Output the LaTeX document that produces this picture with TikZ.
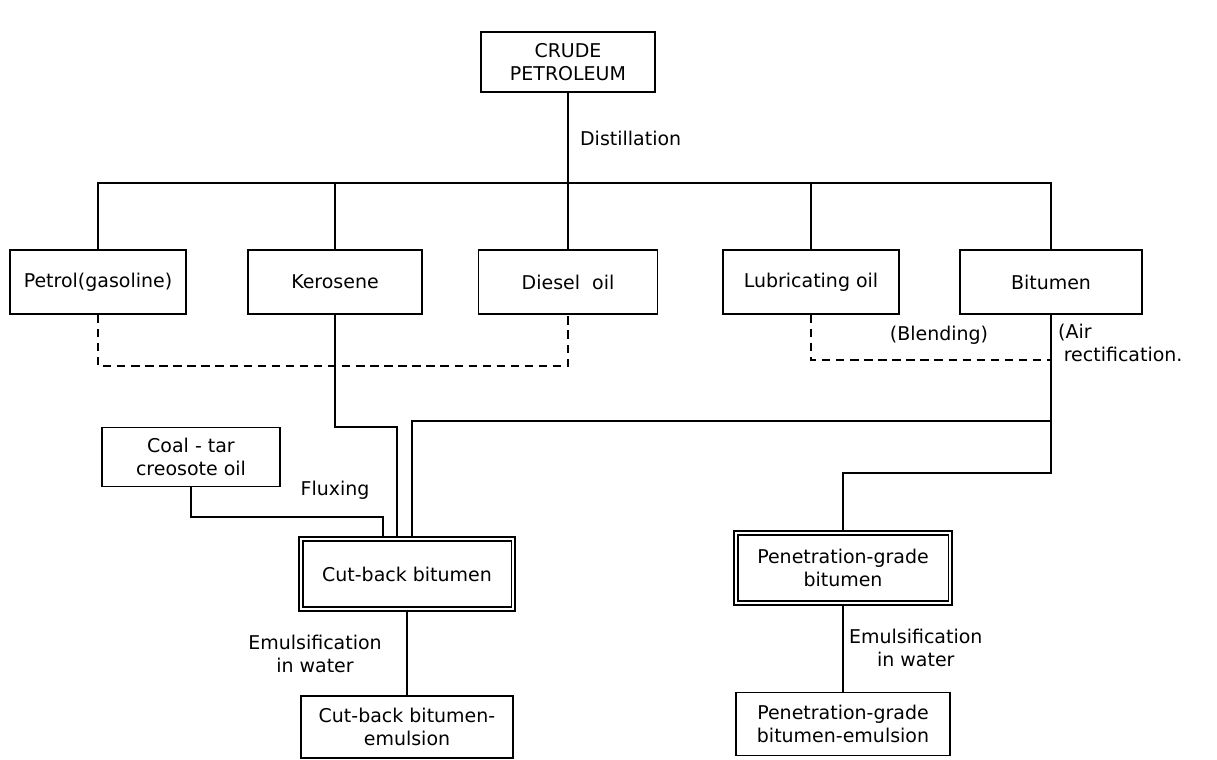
\documentclass[tikz,border=0pt]{standalone}
\usepackage{fontspec}
\setmainfont{DejaVu Sans}

\begin{document}
\begin{tikzpicture}[x=0.025cm,y=-0.025cm,line width=1pt,
	box/.style={draw,align=center,font=\fontsize{13.5}{16}\selectfont,minimum height=1.6cm,inner sep=2pt},
	mainbox/.style={box,double,double distance=1.6pt,minimum height=1.75cm},
	lbl/.style={font=\fontsize{13.5}{16}\selectfont,align=center,inner sep=1pt},
	blendline/.style={dash pattern=on 6pt off 4pt}]
\useasboundingbox (0,0) rectangle (1217,759);
\node[box,minimum width=4.35cm,minimum height=1.5cm] (crude) at (568,62) {CRUDE\\PETROLEUM};
\node[box,minimum width=4.4cm] (petrol) at (98,282) {Petrol(gasoline)};
\node[box,minimum width=4.35cm] (kero) at (335,282) {Kerosene};
\node[box,minimum width=4.475cm] (diesel) at (568,282) {Diesel\ \ oil};
\node[box,minimum width=4.4cm] (lube) at (811,282) {Lubricating oil};
\node[box,minimum width=4.55cm] (bit) at (1051,282) {Bitumen};
\node[box,minimum width=4.45cm,minimum height=1.475cm] (coal) at (191,457) {Coal - tar\\creosote oil};
\node[mainbox,minimum width=5.3cm] (cutback) at (407,574) {Cut-back bitumen};
\node[mainbox,minimum width=5.35cm] (pen) at (843,568) {Penetration-grade\\bitumen};
\node[box,minimum width=5.3cm,minimum height=1.55cm] (cbemul) at (407,727) {Cut-back bitumen-\\emulsion};
\node[box,minimum width=5.35cm,minimum height=1.575cm] (penemul) at (843,724) {Penetration-grade\\bitumen-emulsion};
\coordinate (bus) at (568,183);
\coordinate (dashl) at (98,366);
\coordinate (dashr) at (1051,360);
\coordinate (kbend) at (397,427);
\coordinate (fork) at (1051,421);
\coordinate (cbend) at (412,421);
\coordinate (fbend) at (383,517);
\coordinate (abend) at (843,473);
\draw (crude) -- (diesel);
\draw (petrol.north) -- (petrol.north |- bus) -- (bit.north |- bus) -- (bit.north);
\foreach \n in {kero,lube}
	\draw (\n.north) -- (\n.north |- bus);
\draw[blendline] (petrol.south) -- (dashl) -| (diesel.south);
\draw[blendline] (lube.south) |- (dashr);
\draw (kero.south) |- (kbend) -- (kbend |- cutback.north);
\draw (bit.south) |- (abend) -- (pen.north);
\draw (fork) -- (cbend) -- (cbend |- cutback.north);
\draw (coal.south) |- (fbend) -- (fbend |- cutback.north);
\draw (cutback) -- (cbemul);
\draw (pen) -- (penemul);
\node[lbl,anchor=west] (distil) at (578,138) {Distillation};
\node[lbl] (blend) at (939,335) {(Blending)};
\node[lbl,align=left,anchor=north west] (airrect) at (1056,322) {(Air\\\hspace{0.3em}rectification.};
\node[lbl] (flux) at (335,490) {Fluxing};
\node[lbl] (emulcb) at (315,654) {Emulsification\\in water};
\node[lbl,anchor=west] (emulpen) at (847,648) {Emulsification\\in water};
\end{tikzpicture}
\end{document}
